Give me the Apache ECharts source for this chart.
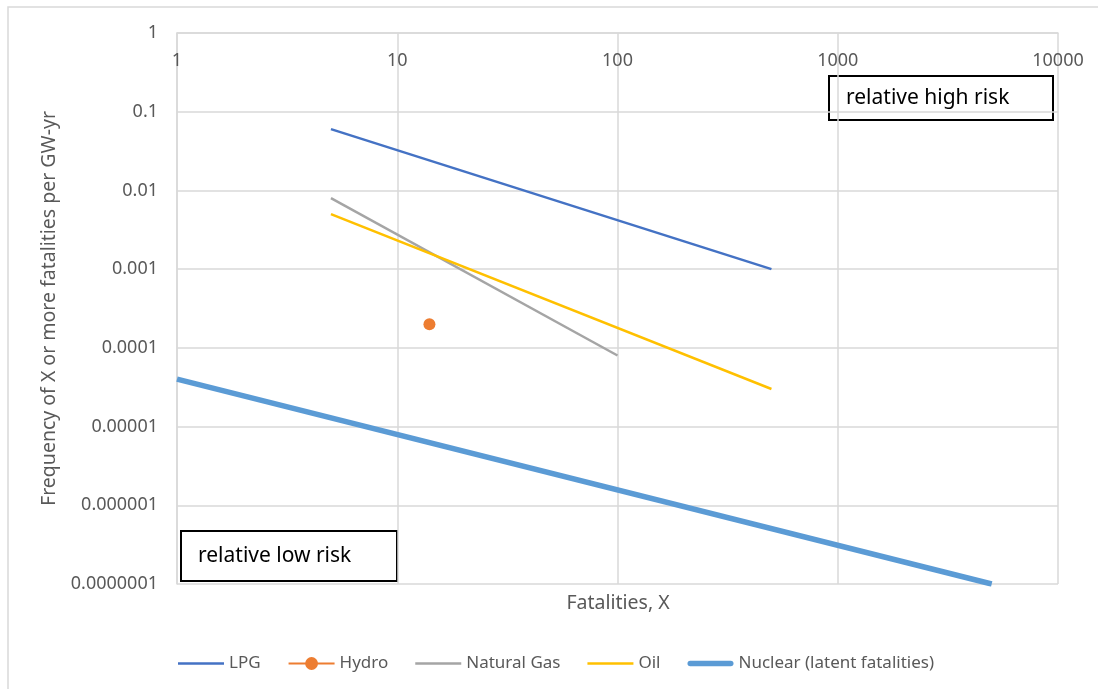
<!DOCTYPE html>
<html>
<head>
<meta charset="utf-8">
<script src="https://cdn.jsdelivr.net/npm/echarts@6/dist/echarts.min.js"></script>
<style>
html,body{margin:0;padding:0;background:#fff;}
#chart{width:1098px;height:689px;}
</style>
</head>
<body>
<div id="chart"></div>
<script>
// ---- data ----
const seriesNames = ['LPG', 'Hydro', 'Natural Gas', 'Oil', 'Nuclear (latent fatalities)'];
const lpgData = [[5, 0.06], [500, 0.001]];
const hydroData = [[14, 0.0002]];
const gasData = [[5, 0.008], [100, 0.00008]];
const oilData = [[5, 0.005], [500, 0.00003]];
const nuclearData = [[1, 0.00004], [5000, 0.0000001]];
const xTickLabels = ['1', '10', '100', '1000', '10000'];
const yTickLabels = ['0.0000001', '0.000001', '0.00001', '0.0001', '0.001', '0.01', '0.1', '1'];
const xTitle = 'Fatalities, X';
const yTitle = 'Frequency of X or more fatalities per GW-yr';
const highRiskText = 'relative high risk';
const lowRiskText = 'relative low risk';

const FONT = '"Noto Sans", sans-serif';
const GRID = '#d9d9d9';
const TXT = '#595959';
const thinIcon = 'path://M0,0H46V2.5H0Z';
const thickIcon = 'path://M2.75,0H43.25A2.75,2.75 0 0 1 43.25,5.5H2.75A2.75,2.75 0 0 1 2.75,0Z';

const chart = echarts.init(document.getElementById('chart'));
const option = {
  animation: false,
  backgroundColor: '#fff',
  textStyle: { fontFamily: FONT },
  grid: { left: 177, right: 40, top: 33, bottom: 105 },
  xAxis: {
    type: 'log', logBase: 10, min: 1, max: 10000, interval: 1, splitNumber: 4,
    position: 'top',
    axisLine: { show: true, lineStyle: { color: GRID, width: 1.5 } },
    axisTick: { show: false },
    splitLine: { show: true, lineStyle: { color: GRID, width: 1.5 } },
    axisLabel: {
      inside: true, margin: 19, color: TXT, fontSize: 18, fontFamily: FONT,
      showMinLabel: true, showMaxLabel: true,
      formatter: v => xTickLabels[Math.round(Math.log10(v))]
    }
  },
  yAxis: {
    type: 'log', logBase: 10, min: 0.0000001, max: 1, interval: 1, splitNumber: 7,
    name: yTitle, nameLocation: 'middle', nameGap: 115, nameRotate: 90,
    nameTextStyle: { color: TXT, fontSize: 19.5, fontFamily: FONT },
    axisLine: { show: true, lineStyle: { color: GRID, width: 1.5 } },
    axisTick: { show: false },
    splitLine: { show: true, lineStyle: { color: GRID, width: 1.5 } },
    axisLabel: {
      margin: 19, color: TXT, fontSize: 18, fontFamily: FONT,
      showMinLabel: true, showMaxLabel: true,
      formatter: v => yTickLabels[Math.round(Math.log10(v)) + 7]
    }
  },
  legend: {
    left: 173, top: 650, itemWidth: 46, itemHeight: 16, itemGap: 27,
    textStyle: { color: TXT, fontSize: 17, fontFamily: FONT },
    data: [
      { name: seriesNames[0], icon: thinIcon },
      { name: seriesNames[1] },
      { name: seriesNames[2], icon: thinIcon },
      { name: seriesNames[3], icon: thinIcon },
      { name: seriesNames[4], icon: thickIcon }
    ]
  },
  series: [
    { name: seriesNames[0], type: 'line', data: lpgData, showSymbol: false, symbol: 'none',
      lineStyle: { color: '#4472C4', width: 2.5 }, itemStyle: { color: '#4472C4' } },
    { name: seriesNames[1], type: 'line', data: hydroData, symbol: 'circle', symbolSize: 12,
      lineStyle: { color: '#ED7D31', width: 2.5 }, itemStyle: { color: '#ED7D31' } },
    { name: seriesNames[2], type: 'line', data: gasData, showSymbol: false, symbol: 'none',
      lineStyle: { color: '#A5A5A5', width: 2.5 }, itemStyle: { color: '#A5A5A5' } },
    { name: seriesNames[3], type: 'line', data: oilData, showSymbol: false, symbol: 'none',
      lineStyle: { color: '#FFC000', width: 2.5 }, itemStyle: { color: '#FFC000' } },
    { name: seriesNames[4], type: 'line', data: nuclearData, showSymbol: false, symbol: 'none',
      lineStyle: { color: '#5B9BD5', width: 5.5 }, itemStyle: { color: '#5B9BD5' } }
  ],
  graphic: [
    { type: 'rect', x: 8, y: 7, shape: { width: 1200, height: 800 }, silent: true,
      style: { fill: 'none', stroke: GRID, lineWidth: 1.5 }, z: -1 },
    { type: 'text', x: 618, y: 593, silent: true,
      style: { text: xTitle, fill: TXT, font: '19.5px ' + FONT, textAlign: 'center' } },
    { type: 'group', x: 829, y: 76, children: [
      { type: 'rect', shape: { x: 0, y: 0, width: 224, height: 44 },
        style: { fill: '#fff', stroke: '#000', lineWidth: 2 } },
      { type: 'text', x: 17, y: 22, style: { text: highRiskText, fill: '#000', font: '21px ' + FONT, verticalAlign: 'middle' } }
    ]},
    { type: 'group', x: 181, y: 531, children: [
      { type: 'rect', shape: { x: 0, y: 0, width: 216, height: 50 },
        style: { fill: '#fff', stroke: '#000', lineWidth: 2 } },
      { type: 'text', x: 17, y: 25, style: { text: lowRiskText, fill: '#000', font: '21px ' + FONT, verticalAlign: 'middle' } }
    ]}
  ]
};
chart.setOption(option);
</script>
</body>
</html>
